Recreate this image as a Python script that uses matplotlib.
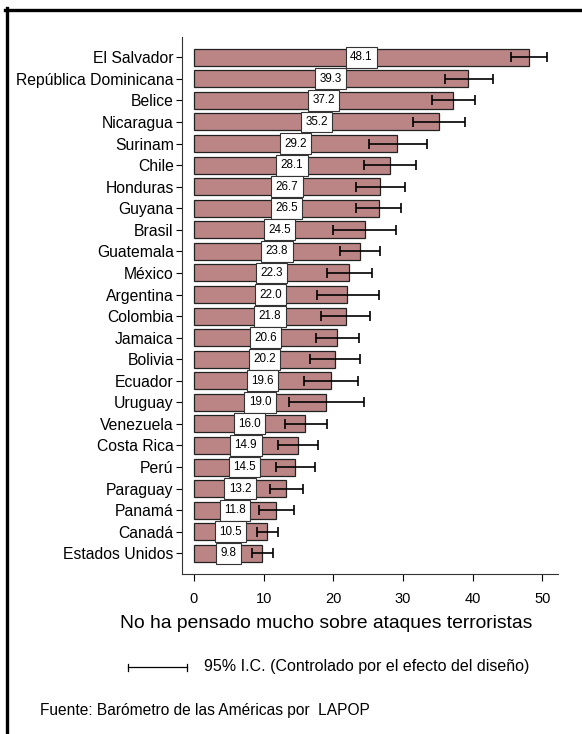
import numpy as np
import matplotlib
matplotlib.use("Agg")
import matplotlib.pyplot as plt
from matplotlib.lines import Line2D

plt.rcParams['font.family'] = ['Liberation Sans', 'DejaVu Sans']

# data, top to bottom as drawn
countries = ["El Salvador", "República Dominicana", "Belice", "Nicaragua", "Surinam",
             "Chile", "Honduras", "Guyana", "Brasil", "Guatemala", "México", "Argentina",
             "Colombia", "Jamaica", "Bolivia", "Ecuador", "Uruguay", "Venezuela",
             "Costa Rica", "Perú", "Paraguay", "Panamá", "Canadá", "Estados Unidos"]
means = [48.1, 39.3, 37.2, 35.2, 29.2, 28.1, 26.7, 26.5, 24.5, 23.8, 22.3, 22.0,
         21.8, 20.6, 20.2, 19.6, 19.0, 16.0, 14.9, 14.5, 13.2, 11.8, 10.5, 9.8]
ci_low = [45.5, 36.0, 34.2, 31.4, 25.1, 24.4, 23.2, 23.2, 20.0, 20.9, 19.1, 17.6,
          18.3, 17.5, 16.6, 15.8, 13.7, 13.0, 12.0, 11.8, 10.9, 9.3, 9.0, 8.3]
ci_high = [50.6, 42.9, 40.3, 38.9, 33.4, 31.8, 30.3, 29.7, 29.0, 26.7, 25.6, 26.5,
           25.3, 23.7, 23.8, 23.5, 24.4, 19.1, 17.8, 17.3, 15.6, 14.4, 12.1, 11.4]
xticks = [0, 10, 20, 30, 40, 50]

bar_color = "#bb8585"
W, H = 582, 734

fig = plt.figure(figsize=(W / 100, H / 100), dpi=100)
fig.patch.set_facecolor("white")

# frame lines (left and top only)
fig.add_artist(Line2D([6.5 / W, 6.5 / W], [0, 1 - 8 / H], transform=fig.transFigure,
                      color="black", lw=2.4))
fig.add_artist(Line2D([5 / W, 1], [1 - 9.5 / H, 1 - 9.5 / H], transform=fig.transFigure,
                      color="black", lw=2.4))

ax = fig.add_axes([182 / W, 1 - 574 / H, (558 - 182) / W, (574 - 37) / H])

n = len(countries)
ypos = np.arange(n)[::-1]
means_a = np.array(means)
lo = means_a - np.array(ci_low)
hi = np.array(ci_high) - means_a

ax.barh(ypos, means_a, height=0.79, color=bar_color, edgecolor="#222222", linewidth=0.9)
ax.errorbar(means_a, ypos, xerr=[lo, hi], fmt="none", ecolor="black",
            elinewidth=1.2, capsize=3.6, capthick=1.2)

for y, v in zip(ypos, means):
    ax.text(v / 2, y, f"{v:.1f}", ha="center", va="center", fontsize=8.4,
            bbox=dict(boxstyle="square,pad=0.38", fc="white", ec="#333333", lw=0.8))

ax.set_xlim(-1.72, 52.25)
ax.set_ylim(-0.96, n - 1 + 0.94)
ax.set_yticks(ypos)
ax.set_yticklabels(countries, fontsize=11.3)
ax.set_xticks(xticks)
ax.set_xticklabels([str(t) for t in xticks], fontsize=10.5)
ax.tick_params(axis="y", length=4, width=0.8, pad=2)
ax.tick_params(axis="x", length=5, width=0.8, pad=8)
for s in ["top", "right"]:
    ax.spines[s].set_visible(False)
for s in ["left", "bottom"]:
    ax.spines[s].set_linewidth(0.8)
    ax.spines[s].set_color("#333333")

fig.text(326 / W, 1 - 624 / H, "No ha pensado mucho sobre ataques terroristas",
         ha="center", va="center", fontsize=13.9)

# legend for the confidence interval
yl = 1 - 667 / H
fig.add_artist(Line2D([128 / W, 187 / W], [yl, yl], transform=fig.transFigure,
                      color="black", lw=0.9))
for xe in (128, 187):
    fig.add_artist(Line2D([xe / W, xe / W], [yl - 3.5 / H, yl + 3.5 / H],
                          transform=fig.transFigure, color="black", lw=0.9))
fig.text(204 / W, yl, "95% I.C. (Controlado por el efecto del diseño)",
         ha="left", va="center", fontsize=11.5)

fig.text(40 / W, 1 - 711 / H, "Fuente: Barómetro de las Américas por  LAPOP",
         ha="left", va="center", fontsize=11.2)

fig.savefig("out.png", dpi=100)
